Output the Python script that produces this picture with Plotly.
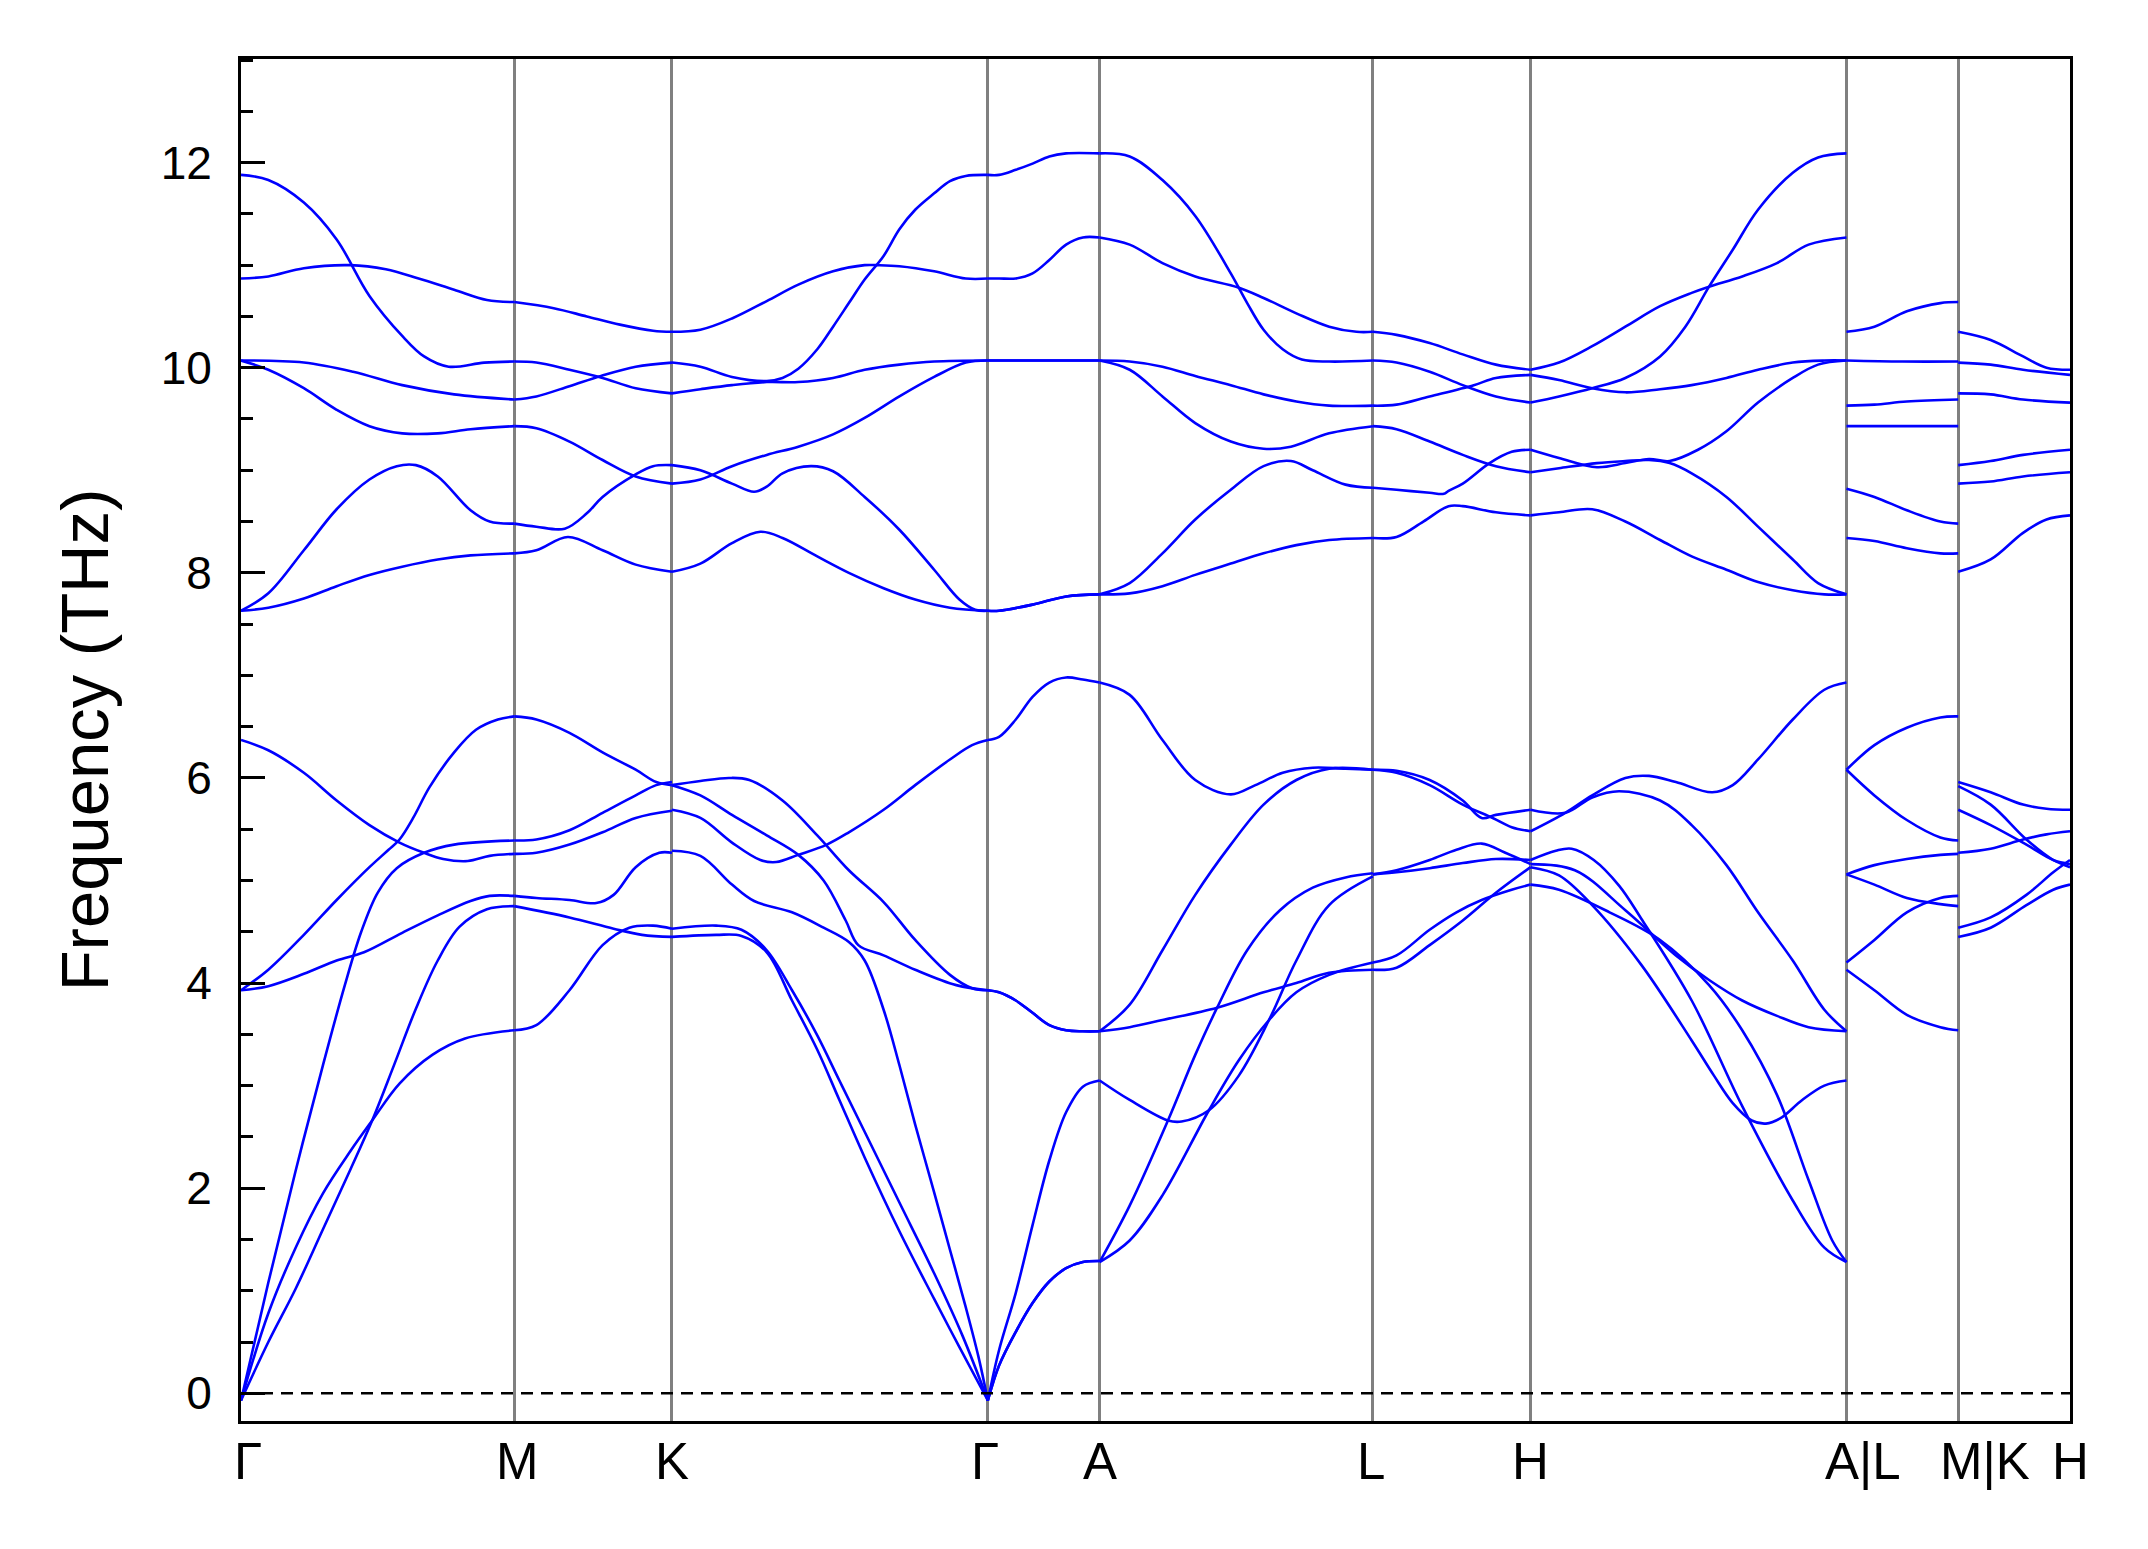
import plotly.graph_objects as go

# ---------------- k-path ----------------
path_labels = ["Γ", "M", "K", "Γ", "A", "L", "H", "A|L", "M|K", "H"]
seg_lengths = [0.577, 0.333, 0.667, 0.236, 0.577, 0.333, 0.667, 0.236, 0.236]

# ---------------- bands per segment: (fraction along segment, frequency THz) ----------------
band_G_M = [
    [(0, 11.88), (0.10, 11.83), (0.23, 11.61), (0.35, 11.25), (0.47, 10.70), (0.59, 10.31), (0.67, 10.11), (0.76, 10.01), (0.89, 10.05), (1, 10.06)],
    [(0, 10.87), (0.10, 10.89), (0.23, 10.97), (0.40, 11.00), (0.53, 10.96), (0.65, 10.87), (0.78, 10.76), (0.90, 10.66), (1, 10.64)],
    [(0, 10.07), (0.23, 10.05), (0.41, 9.96), (0.59, 9.83), (0.78, 9.74), (1, 9.69)],
    [(0, 10.07), (0.10, 9.98), (0.23, 9.80), (0.35, 9.59), (0.47, 9.43), (0.59, 9.36), (0.72, 9.36), (0.84, 9.40), (1, 9.43)],
    [(0, 7.63), (0.10, 7.80), (0.23, 8.22), (0.35, 8.62), (0.47, 8.91), (0.57, 9.04), (0.64, 9.05), (0.72, 8.94), (0.84, 8.61), (0.91, 8.50), (1, 8.48)],
    [(0, 7.63), (0.10, 7.66), (0.23, 7.75), (0.35, 7.87), (0.47, 7.98), (0.59, 8.06), (0.72, 8.13), (0.84, 8.17), (1, 8.19)],
    [(0, 6.37), (0.10, 6.27), (0.23, 6.05), (0.35, 5.78), (0.47, 5.54), (0.58, 5.37), (0.67, 5.27), (0.74, 5.21), (0.83, 5.19), (0.91, 5.24), (1, 5.26)],
    [(0, 3.93), (0.10, 4.13), (0.23, 4.47), (0.35, 4.81), (0.47, 5.13), (0.54, 5.30), (0.58, 5.40), (0.63, 5.61), (0.69, 5.91), (0.78, 6.25), (0.86, 6.47), (0.94, 6.57), (1, 6.60)],
    [(0, 3.93), (0.10, 3.97), (0.23, 4.09), (0.35, 4.22), (0.45, 4.30), (0.59, 4.49), (0.72, 4.66), (0.84, 4.80), (0.91, 4.85), (1, 4.85)],
    [(0, -0.07), (0.10, 1.08), (0.20, 2.17), (0.30, 3.20), (0.38, 3.98), (0.44, 4.50), (0.50, 4.88), (0.57, 5.12), (0.67, 5.27), (0.78, 5.35), (1, 5.39)],
    [(0, -0.07), (0.10, 0.50), (0.20, 1.02), (0.30, 1.60), (0.40, 2.18), (0.48, 2.66), (0.56, 3.20), (0.64, 3.75), (0.72, 4.22), (0.80, 4.55), (0.90, 4.72), (1, 4.75)],
    [(0, -0.07), (0.10, 0.78), (0.20, 1.42), (0.30, 1.95), (0.40, 2.36), (0.48, 2.66), (0.58, 3.02), (0.70, 3.30), (0.82, 3.46), (1, 3.54)],
]

band_M_K = [
    [(0, 10.64), (0.25, 10.58), (0.46, 10.50), (0.67, 10.42), (0.88, 10.36), (1, 10.35)],
    [(0, 10.06), (0.14, 10.05), (0.35, 9.98), (0.56, 9.90), (0.77, 9.80), (1, 9.75)],
    [(0, 9.69), (0.14, 9.72), (0.35, 9.82), (0.55, 9.92), (0.77, 10.01), (1, 10.05)],
    [(0, 9.43), (0.14, 9.41), (0.35, 9.28), (0.56, 9.10), (0.77, 8.94), (1, 8.87)],
    [(0, 8.48), (0.14, 8.45), (0.32, 8.43), (0.46, 8.58), (0.56, 8.74), (0.77, 8.96), (0.88, 9.04), (1, 9.05)],
    [(0, 8.19), (0.14, 8.22), (0.34, 8.35), (0.56, 8.22), (0.77, 8.08), (1, 8.01)],
    [(0, 6.60), (0.14, 6.57), (0.35, 6.44), (0.56, 6.25), (0.77, 6.08), (0.90, 5.96), (1, 5.93)],
    [(0, 5.39), (0.14, 5.40), (0.35, 5.49), (0.56, 5.66), (0.77, 5.83), (0.90, 5.93), (1, 5.96)],
    [(0, 5.26), (0.14, 5.27), (0.35, 5.35), (0.56, 5.47), (0.77, 5.61), (1, 5.68)],
    [(0, 4.85), (0.14, 4.83), (0.35, 4.81), (0.52, 4.78), (0.63, 4.86), (0.77, 5.13), (0.92, 5.27), (1, 5.27)],
    [(0, 4.75), (0.35, 4.64), (0.63, 4.53), (0.81, 4.47), (1, 4.45)],
    [(0, 3.54), (0.14, 3.59), (0.35, 3.93), (0.56, 4.37), (0.73, 4.54), (0.88, 4.56), (1, 4.53)],
]

band_K_G = [
    [(0, 10.35), (0.09, 10.37), (0.19, 10.48), (0.30, 10.65), (0.40, 10.81), (0.51, 10.94), (0.61, 11.00), (0.65, 11.00), (0.72, 10.99), (0.83, 10.94), (0.93, 10.87), (1, 10.87)],
    [(0, 10.05), (0.09, 10.01), (0.19, 9.91), (0.30, 9.87), (0.35, 9.90), (0.40, 9.99), (0.46, 10.18), (0.51, 10.40), (0.56, 10.63), (0.61, 10.86), (0.67, 11.09), (0.72, 11.35), (0.77, 11.54), (0.83, 11.70), (0.88, 11.82), (0.93, 11.87), (1, 11.88)],
    [(0, 9.75), (0.09, 9.79), (0.19, 9.83), (0.30, 9.86), (0.40, 9.86), (0.51, 9.90), (0.61, 9.98), (0.72, 10.03), (0.83, 10.06), (1, 10.07)],
    [(0, 9.05), (0.09, 9.00), (0.19, 8.87), (0.26, 8.79), (0.30, 8.84), (0.35, 8.97), (0.44, 9.04), (0.51, 8.99), (0.61, 8.74), (0.72, 8.42), (0.83, 8.03), (0.91, 7.74), (0.96, 7.64), (1, 7.63)],
    [(0, 8.87), (0.09, 8.91), (0.19, 9.04), (0.30, 9.15), (0.40, 9.23), (0.51, 9.35), (0.61, 9.51), (0.72, 9.72), (0.83, 9.91), (0.93, 10.05), (1, 10.07)],
    [(0, 8.01), (0.09, 8.09), (0.19, 8.29), (0.28, 8.40), (0.35, 8.34), (0.46, 8.16), (0.56, 8.00), (0.67, 7.85), (0.77, 7.74), (0.88, 7.66), (1, 7.63)],
    [(0, 5.93), (0.09, 5.97), (0.18, 6.00), (0.245, 5.98), (0.35, 5.78), (0.46, 5.44), (0.56, 5.10), (0.67, 4.79), (0.77, 4.42), (0.88, 4.08), (0.95, 3.95), (1, 3.93)],
    [(0, 5.93), (0.09, 5.83), (0.19, 5.64), (0.30, 5.44), (0.40, 5.25), (0.48, 5.00), (0.55, 4.61), (0.59, 4.37), (0.67, 4.27), (0.77, 4.13), (0.90, 3.98), (1, 3.93)],
    [(0, 5.69), (0.09, 5.61), (0.19, 5.37), (0.28, 5.20), (0.33, 5.18), (0.40, 5.25), (0.49, 5.35), (0.56, 5.47), (0.67, 5.69), (0.77, 5.93), (0.88, 6.18), (0.95, 6.32), (1, 6.37)],
    [(0, 5.29), (0.09, 5.24), (0.19, 4.96), (0.26, 4.80), (0.38, 4.69), (0.48, 4.54), (0.56, 4.40), (0.61, 4.22), (0.67, 3.74), (0.72, 3.20), (0.77, 2.62), (0.83, 1.96), (0.88, 1.40), (0.93, 0.84), (0.97, 0.36), (1, -0.07)],
    [(0, 4.53), (0.14, 4.56), (0.22, 4.52), (0.30, 4.32), (0.38, 3.93), (0.46, 3.49), (0.53, 3.05), (0.61, 2.55), (0.72, 1.86), (0.83, 1.17), (0.92, 0.56), (1, -0.07)],
    [(0, 4.45), (0.14, 4.47), (0.22, 4.46), (0.30, 4.30), (0.38, 3.83), (0.46, 3.35), (0.53, 2.86), (0.61, 2.30), (0.72, 1.58), (0.83, 0.92), (0.91, 0.45), (1, -0.07)],
]

band_G_A = [
    [(0, 11.88), (0.10, 11.88), (0.25, 11.93), (0.40, 11.99), (0.55, 12.06), (0.70, 12.09), (1, 12.09)],
    [(0, 10.87), (0.10, 10.87), (0.25, 10.87), (0.40, 10.92), (0.55, 11.05), (0.70, 11.20), (0.85, 11.27), (1, 11.27)],
    [(0, 10.07), (0.5, 10.07), (1, 10.07)],
    [(0, 10.07), (0.5, 10.07), (1, 10.07)],
    [(0, 7.63), (0.10, 7.63), (0.40, 7.69), (0.70, 7.77), (1, 7.79)],
    [(0, 7.63), (0.10, 7.63), (0.40, 7.69), (0.70, 7.77), (1, 7.79)],
    [(0, 6.37), (0.10, 6.40), (0.25, 6.57), (0.40, 6.79), (0.55, 6.93), (0.70, 6.98), (0.85, 6.96), (1, 6.93)],
    [(0, 3.93), (0.10, 3.91), (0.25, 3.83), (0.40, 3.71), (0.55, 3.59), (0.70, 3.54), (0.85, 3.53), (1, 3.53)],
    [(0, 3.93), (0.10, 3.91), (0.25, 3.83), (0.40, 3.71), (0.55, 3.59), (0.70, 3.54), (0.85, 3.53), (1, 3.53)],
    [(0, -0.07), (0.10, 0.42), (0.25, 0.98), (0.40, 1.64), (0.55, 2.27), (0.70, 2.74), (0.85, 2.99), (1, 3.05)],
    [(0, -0.07), (0.10, 0.27), (0.25, 0.60), (0.40, 0.88), (0.55, 1.09), (0.70, 1.22), (0.85, 1.28), (1, 1.29)],
    [(0, -0.07), (0.10, 0.27), (0.25, 0.60), (0.40, 0.88), (0.55, 1.09), (0.70, 1.22), (0.85, 1.28), (1, 1.29)],
]

band_A_L = [
    [(0, 12.09), (0.11, 12.06), (0.23, 11.83), (0.35, 11.48), (0.48, 10.92), (0.54, 10.63), (0.60, 10.37), (0.67, 10.18), (0.74, 10.08), (0.84, 10.06), (1, 10.07)],
    [(0, 11.27), (0.11, 11.20), (0.23, 11.02), (0.35, 10.89), (0.51, 10.78), (0.60, 10.68), (0.72, 10.53), (0.84, 10.40), (0.94, 10.35), (1, 10.35)],
    [(0, 10.07), (0.11, 10.06), (0.23, 10.01), (0.35, 9.92), (0.48, 9.83), (0.60, 9.74), (0.72, 9.67), (0.84, 9.63), (1, 9.63)],
    [(0, 10.07), (0.11, 9.98), (0.23, 9.72), (0.35, 9.46), (0.48, 9.28), (0.60, 9.21), (0.70, 9.23), (0.84, 9.36), (1, 9.43)],
    [(0, 7.79), (0.11, 7.90), (0.23, 8.19), (0.35, 8.52), (0.48, 8.81), (0.60, 9.04), (0.70, 9.09), (0.78, 9.00), (0.90, 8.86), (1, 8.83)],
    [(0, 7.79), (0.11, 7.80), (0.23, 7.87), (0.35, 7.98), (0.48, 8.09), (0.60, 8.19), (0.72, 8.27), (0.84, 8.32), (1, 8.34)],
    [(0, 6.93), (0.11, 6.81), (0.23, 6.37), (0.35, 5.98), (0.48, 5.84), (0.57, 5.93), (0.67, 6.05), (0.78, 6.10), (0.90, 6.09), (1, 6.08)],
    [(0, 3.53), (0.11, 3.79), (0.23, 4.32), (0.35, 4.86), (0.48, 5.35), (0.60, 5.74), (0.72, 5.98), (0.84, 6.09), (1, 6.08)],
    [(0, 3.53), (0.11, 3.57), (0.23, 3.64), (0.43, 3.76), (0.60, 3.91), (0.72, 4.00), (0.84, 4.10), (1, 4.13)],
    [(0, 3.05), (0.11, 2.86), (0.25, 2.66), (0.30, 2.65), (0.40, 2.76), (0.51, 3.10), (0.62, 3.64), (0.72, 4.22), (0.84, 4.76), (1, 5.04)],
    [(0, 1.28), (0.11, 1.83), (0.25, 2.66), (0.35, 3.30), (0.43, 3.76), (0.54, 4.32), (0.66, 4.71), (0.78, 4.93), (0.90, 5.03), (1, 5.07)],
    [(0, 1.28), (0.11, 1.49), (0.23, 1.93), (0.40, 2.76), (0.51, 3.25), (0.62, 3.64), (0.72, 3.91), (0.84, 4.08), (1, 4.20)],
]

band_L_H = [
    [(0, 10.35), (0.15, 10.32), (0.36, 10.24), (0.57, 10.13), (0.78, 10.03), (1, 9.98)],
    [(0, 10.07), (0.15, 10.05), (0.36, 9.96), (0.57, 9.83), (0.78, 9.72), (1, 9.66)],
    [(0, 9.63), (0.15, 9.64), (0.36, 9.72), (0.64, 9.83), (0.78, 9.90), (1, 9.93)],
    [(0, 9.43), (0.15, 9.40), (0.36, 9.28), (0.57, 9.15), (0.78, 9.04), (1, 8.98)],
    [(0, 8.83), (0.15, 8.81), (0.36, 8.78), (0.45, 8.77), (0.48, 8.80), (0.57, 8.87), (0.74, 9.07), (0.88, 9.18), (1, 9.20)],
    [(0, 8.34), (0.15, 8.35), (0.32, 8.50), (0.48, 8.65), (0.57, 8.65), (0.78, 8.59), (1, 8.56)],
    [(0, 6.08), (0.15, 6.07), (0.36, 5.98), (0.57, 5.78), (0.69, 5.61), (0.78, 5.64), (1, 5.69)],
    [(0, 6.08), (0.15, 6.05), (0.36, 5.93), (0.57, 5.74), (0.76, 5.61), (0.88, 5.52), (1, 5.48)],
    [(0, 5.06), (0.15, 5.10), (0.36, 5.20), (0.53, 5.30), (0.69, 5.36), (0.84, 5.27), (1, 5.16)],
    [(0, 5.06), (0.15, 5.08), (0.36, 5.12), (0.57, 5.17), (0.78, 5.21), (1, 5.20)],
    [(0, 4.20), (0.15, 4.27), (0.36, 4.52), (0.53, 4.69), (0.69, 4.81), (0.88, 4.91), (1, 4.96)],
    [(0, 4.13), (0.15, 4.15), (0.36, 4.37), (0.57, 4.61), (0.78, 4.88), (1, 5.13)],
]

band_H_A = [
    [(0, 9.98), (0.09, 10.05), (0.195, 10.21), (0.30, 10.40), (0.41, 10.60), (0.51, 10.73), (0.565, 10.79), (0.67, 10.89), (0.78, 11.02), (0.88, 11.20), (1, 11.27)],
    [(0, 9.93), (0.09, 9.88), (0.195, 9.80), (0.30, 9.76), (0.41, 9.79), (0.51, 9.83), (0.62, 9.90), (0.72, 9.98), (0.83, 10.05), (0.93, 10.07), (1, 10.07)],
    [(0, 9.66), (0.09, 9.72), (0.195, 9.80), (0.30, 9.90), (0.41, 10.11), (0.49, 10.40), (0.565, 10.79), (0.64, 11.15), (0.72, 11.54), (0.83, 11.90), (0.91, 12.05), (1, 12.09)],
    [(0, 9.20), (0.09, 9.12), (0.21, 9.03), (0.30, 9.07), (0.375, 9.11), (0.44, 9.09), (0.53, 9.20), (0.62, 9.38), (0.72, 9.66), (0.83, 9.90), (0.91, 10.03), (1, 10.07)],
    [(0, 8.98), (0.09, 9.02), (0.21, 9.07), (0.30, 9.09), (0.375, 9.10), (0.44, 9.07), (0.51, 8.97), (0.62, 8.74), (0.72, 8.45), (0.83, 8.13), (0.91, 7.90), (1, 7.79)],
    [(0, 8.56), (0.09, 8.59), (0.195, 8.62), (0.30, 8.50), (0.41, 8.32), (0.51, 8.16), (0.62, 8.03), (0.72, 7.91), (0.83, 7.83), (0.93, 7.79), (1, 7.79)],
    [(0, 5.48), (0.11, 5.66), (0.195, 5.83), (0.30, 6.00), (0.375, 6.02), (0.46, 5.96), (0.575, 5.86), (0.64, 5.93), (0.72, 6.18), (0.83, 6.57), (0.93, 6.86), (1, 6.93)],
    [(0, 5.69), (0.11, 5.66), (0.195, 5.81), (0.28, 5.87), (0.41, 5.78), (0.51, 5.54), (0.62, 5.15), (0.72, 4.69), (0.83, 4.22), (0.93, 3.74), (1, 3.53)],
    [(0, 5.20), (0.08, 5.29), (0.13, 5.31), (0.20, 5.20), (0.28, 4.95), (0.35, 4.63), (0.51, 3.83), (0.67, 2.80), (0.83, 1.88), (0.93, 1.42), (1, 1.28)],
    [(0, 5.16), (0.14, 5.10), (0.30, 4.71), (0.46, 4.27), (0.565, 4.03), (0.67, 3.83), (0.78, 3.68), (0.88, 3.57), (1, 3.53)],
    [(0, 5.13), (0.09, 5.05), (0.195, 4.76), (0.35, 4.18), (0.51, 3.44), (0.58, 3.10), (0.64, 2.83), (0.70, 2.66), (0.745, 2.63), (0.79, 2.68), (0.86, 2.86), (0.93, 3.00), (1, 3.05)],
    [(0, 4.96), (0.09, 4.91), (0.25, 4.69), (0.41, 4.42), (0.565, 3.98), (0.67, 3.54), (0.78, 2.91), (0.88, 2.08), (0.955, 1.49), (1, 1.28)],
]

band_L_M = [
    [(0, 10.35), (0.25, 10.40), (0.54, 10.55), (0.84, 10.63), (1, 10.64)],
    [(0, 10.07), (0.5, 10.06), (1, 10.06)],
    [(0, 9.63), (0.25, 9.64), (0.54, 9.67), (1, 9.69)],
    [(0, 9.43), (0.5, 9.43), (1, 9.43)],
    [(0, 8.82), (0.25, 8.74), (0.54, 8.61), (0.84, 8.50), (1, 8.48)],
    [(0, 8.34), (0.25, 8.31), (0.54, 8.24), (0.84, 8.19), (1, 8.19)],
    [(0, 6.08), (0.25, 6.32), (0.54, 6.49), (0.84, 6.59), (1, 6.60)],
    [(0, 6.08), (0.25, 5.83), (0.54, 5.59), (0.84, 5.42), (1, 5.39)],
    [(0, 5.06), (0.25, 5.15), (0.54, 5.21), (0.84, 5.25), (1, 5.26)],
    [(0, 5.06), (0.25, 4.96), (0.54, 4.83), (0.84, 4.77), (1, 4.75)],
    [(0, 4.20), (0.25, 4.42), (0.54, 4.69), (0.84, 4.83), (1, 4.85)],
    [(0, 4.13), (0.25, 3.93), (0.54, 3.69), (0.84, 3.57), (1, 3.54)],
]

band_K_H = [
    [(0, 10.35), (0.29, 10.27), (0.58, 10.11), (0.79, 10.00), (1, 9.98)],
    [(0, 10.05), (0.29, 10.03), (0.58, 9.98), (1, 9.93)],
    [(0, 9.75), (0.29, 9.74), (0.58, 9.69), (1, 9.66)],
    [(0, 9.05), (0.29, 9.09), (0.58, 9.15), (1, 9.20)],
    [(0, 8.87), (0.29, 8.89), (0.58, 8.94), (1, 8.98)],
    [(0, 8.01), (0.29, 8.13), (0.58, 8.39), (0.79, 8.52), (1, 8.56)],
    [(0, 5.96), (0.29, 5.86), (0.58, 5.74), (0.79, 5.70), (1, 5.69)],
    [(0, 5.92), (0.29, 5.74), (0.61, 5.40), (0.85, 5.20), (1, 5.13)],
    [(0, 5.69), (0.29, 5.54), (0.61, 5.35), (0.85, 5.20), (1, 5.16)],
    [(0, 5.27), (0.29, 5.31), (0.58, 5.40), (0.79, 5.45), (1, 5.48)],
    [(0, 4.54), (0.29, 4.64), (0.61, 4.86), (0.85, 5.08), (1, 5.20)],
    [(0, 4.45), (0.29, 4.54), (0.61, 4.76), (0.85, 4.91), (1, 4.96)],
]

segments = [band_G_M, band_M_K, band_K_G, band_G_A, band_A_L,
            band_L_H, band_H_A, band_L_M, band_K_H]

y_ticks = [0, 2, 4, 6, 8, 10, 12]

# horizontal nudges (px) of the k-point labels, as placed in the original figure
label_nudge = [7, 3, 0, -3, 0, -2, 0, 17, 27, 0]

# ---------------- build ----------------
tick_pos = [0.0]
for L in seg_lengths:
    tick_pos.append(tick_pos[-1] + L)
x_total = tick_pos[-1]

xs, ys = [], []
for i, seg in enumerate(segments):
    x0, L = tick_pos[i], seg_lengths[i]
    for band in seg:
        for t, f in band:
            xs.append(x0 + t * L)
            ys.append(f)
        xs.append(None)
        ys.append(None)

FONT = "Liberation Sans, Arial, Helvetica, sans-serif"

fig = go.Figure()
fig.add_trace(go.Scatter(
    x=xs, y=ys, mode="lines",
    line=dict(color="#0000FF", width=2.6, shape="spline", smoothing=1.0),
    connectgaps=False, hoverinfo="skip", showlegend=False,
))

fig.add_shape(type="line", xref="paper", yref="y", x0=0, x1=1, y0=0, y1=0,
              line=dict(color="black", width=2.5, dash="12px,8px"), layer="above")

for xp, lab, dx in zip(tick_pos, path_labels, label_nudge):
    fig.add_annotation(x=xp, xref="x", y=0, yref="paper", text=lab, showarrow=False,
                       xanchor="center", yanchor="top", xshift=dx, yshift=-10,
                       font=dict(size=51, family=FONT, color="black"))

fig.update_layout(
    width=2148, height=1549,
    margin=dict(l=233, r=86, t=51, b=136, pad=0),
    paper_bgcolor="white", plot_bgcolor="white",
    font=dict(family=FONT, color="black", size=46),
    showlegend=False,
)
fig.update_xaxes(
    range=[0, x_total], tickmode="array", tickvals=tick_pos, showticklabels=False,
    ticks="", showgrid=True, gridcolor="#808080", gridwidth=3,
    showline=True, mirror=True, linecolor="black", linewidth=3,
    zeroline=False,
)
fig.update_yaxes(
    range=[-0.27, 13.01], tickmode="array", tickvals=y_ticks,
    ticks="inside", ticklen=24, tickwidth=3, tickcolor="black",
    minor=dict(dtick=0.5, tick0=0, ticks="inside", ticklen=12, tickwidth=3, tickcolor="black", showgrid=False),
    showgrid=False, zeroline=False,
    showline=True, mirror=True, linecolor="black", linewidth=3,
    tickfont=dict(size=46, family=FONT, color="black"),
    ticklabelstandoff=17,
    title=dict(text="Frequency (THz)", font=dict(size=67, family=FONT, color="black"), standoff=31),
)

fig.write_html("out.html")
